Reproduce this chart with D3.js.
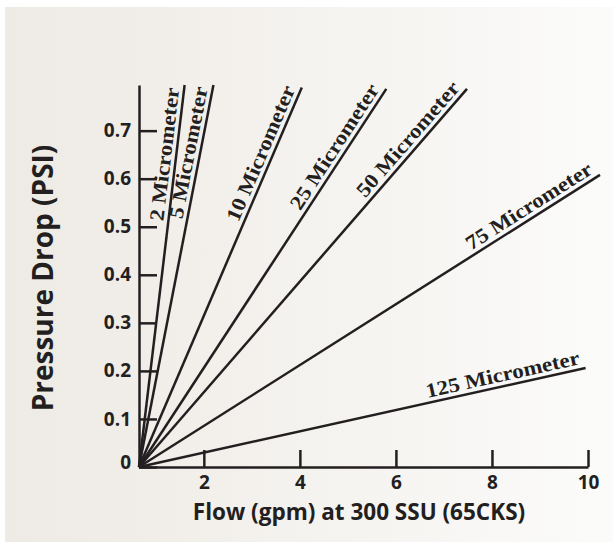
<!DOCTYPE html>
<html>
<head>
<meta charset="utf-8">
<script src="https://cdn.jsdelivr.net/npm/d3@7"></script>
<style>
  body { margin: 0; background: #fff; }
  .axis text { font-family: "Open Sans", sans-serif; font-weight: 700; fill: #231f20; }
  .axis path, .axis line { stroke: #231f20; stroke-width: 2.5; }
</style>
</head>
<body>
<svg id="chart"></svg>
<script>
const width = 613;
const height = 549;

// filter grades and where each line leaves the plot (flow gpm, pressure psi)
const grades = ["2 Micrometer", "5 Micrometer", "10 Micrometer", "25 Micrometer",
                "50 Micrometer", "75 Micrometer", "125 Micrometer"];
const endFlow = [1.6, 2.2, 4.04, 5.8, 7.48, 10.25, 9.95];
const endPsi = [0.795, 0.795, 0.79, 0.787, 0.787, 0.608, 0.206];
const startFlow = 0.65;
const startPsi = 0;

const flowTicks = [2, 4, 6, 8, 10];
const psiTicks = [0, 0.1, 0.2, 0.3, 0.4, 0.5, 0.6, 0.7];

const svg = d3.select("#chart").attr("width", width).attr("height", height);

const grad = svg.append("defs").append("linearGradient")
  .attr("id", "bg").attr("x1", "0%").attr("x2", "100%");
grad.append("stop").attr("offset", "0%").attr("stop-color", "#eeeae4");
grad.append("stop").attr("offset", "100%").attr("stop-color", "#fbfbfa");

svg.append("rect")
  .attr("x", 5).attr("y", 7)
  .attr("width", width - 5).attr("height", 535)
  .attr("fill", "url(#bg)");

const x = d3.scaleLinear().domain([startFlow, 10]).range([139, 588]);
const y = d3.scaleLinear().domain([0, 0.795]).range([467, 85]);

// axes
const yAxis = svg.append("g")
  .attr("class", "axis")
  .attr("transform", `translate(${x(startFlow)},0)`)
  .call(d3.axisLeft(y)
    .tickValues(psiTicks)
    .tickSize(-18)
    .tickSizeOuter(0)
    .tickPadding(8)
    .tickFormat(d => d === 0 ? "0" : d3.format(".1f")(d)));
yAxis.selectAll("text").style("font-size", "19px");
yAxis.selectAll(".tick").filter(d => d === 0).select("text").attr("dy", "0.1em");

const xAxis = svg.append("g")
  .attr("class", "axis")
  .attr("transform", `translate(0,${y(0)})`)
  .call(d3.axisBottom(x)
    .tickValues(flowTicks)
    .tickSize(-17)
    .tickSizeOuter(0)
    .tickPadding(9));
xAxis.selectAll("text").style("font-size", "19px");

// lines
const series = grades.map((g, i) => ({
  name: g,
  pts: [[startFlow, startPsi], [endFlow[i], endPsi[i]]]
}));

const line = d3.line().x(d => x(d[0])).y(d => y(d[1]));

svg.append("g").selectAll("path")
  .data(series)
  .enter()
  .append("path")
  .attr("d", d => line(d.pts))
  .attr("fill", "none")
  .attr("stroke", "#231f20")
  .attr("stroke-width", 2.5);

// labels along each line, ending near its far end
svg.append("g").selectAll("text")
  .data(series)
  .enter()
  .append("text")
  .attr("transform", d => {
    const x0 = x(d.pts[0][0]), y0 = y(d.pts[0][1]);
    const x1 = x(d.pts[1][0]), y1 = y(d.pts[1][1]);
    const a = Math.atan2(y1 - y0, x1 - x0);
    const back = 4;
    const px = x1 - back * Math.cos(a), py = y1 - back * Math.sin(a);
    return `translate(${px},${py}) rotate(${a * 180 / Math.PI}) scale(1.12,1)`;
  })
  .attr("dy", -5)
  .attr("text-anchor", "end")
  .style("font-family", "'Liberation Serif', serif")
  .style("font-weight", 700)
  .style("font-size", "20.5px")
  .style("fill", "#231f20")
  .text(d => d.name);

// titles
svg.append("text")
  .attr("x", 359).attr("y", 520)
  .attr("text-anchor", "middle")
  .style("font-family", "'Open Sans', sans-serif")
  .style("font-weight", 700)
  .style("font-size", "22.5px")
  .style("fill", "#231f20")
  .text("Flow (gpm) at 300 SSU (65CKS)");

svg.append("text")
  .attr("transform", "translate(53,278) rotate(-90)")
  .attr("text-anchor", "middle")
  .style("font-family", "'Open Sans', sans-serif")
  .style("font-weight", 700)
  .style("font-size", "28px")
  .style("fill", "#231f20")
  .text("Pressure Drop (PSI)");
</script>
</body>
</html>
